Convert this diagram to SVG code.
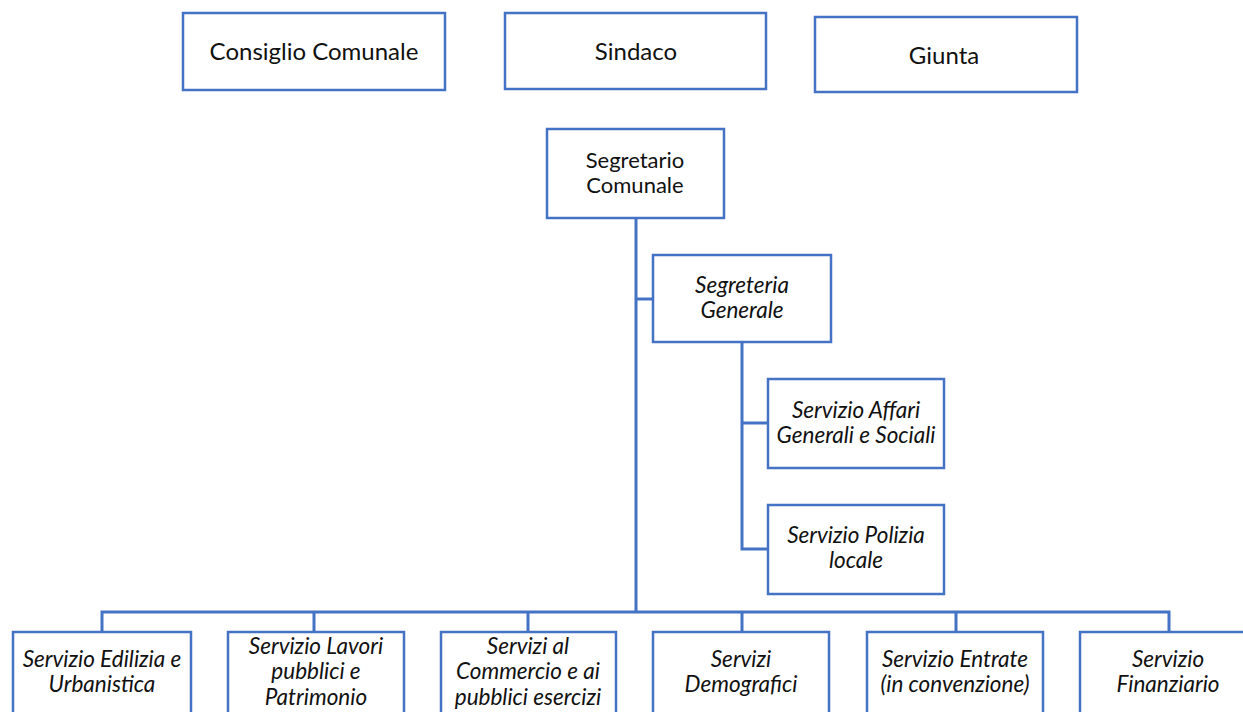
<svg xmlns="http://www.w3.org/2000/svg" width="1243" height="712" viewBox="0 0 1243 712">
<style>
.box{fill:#fff;stroke:#4472C4;stroke-width:2.5}
.ln{fill:none;stroke:#4472C4;stroke-width:3}
text{font-family:Lato,"Open Sans",sans-serif;fill:#111;text-anchor:middle}
.t1{font-size:24px}
.t2{font-size:22px}
.it{font-size:22.5px;font-style:italic}
</style>
<rect width="1243" height="712" fill="#fff"/>
<g id="connectors">
<path class="ln" d="M636 218V612"/>
<path class="ln" d="M636 299H653"/>
<path class="ln" d="M742 342V549H768M742 423H768"/>
<path class="ln" d="M102 632V612H1169V632M314 612V632M528 612V632M742 612V632M956 612V632"/>
</g>
<g id="consiglio"><rect class="box" x="183" y="13" width="262" height="77"/><text class="t1" x="314" y="60">Consiglio Comunale</text></g>
<g id="sindaco"><rect class="box" x="505" y="13" width="261" height="76"/><text class="t1" x="636" y="60">Sindaco</text></g>
<g id="giunta"><rect class="box" x="815" y="17" width="262" height="75"/><text class="t1" x="944" y="64">Giunta</text></g>
<g id="segretario"><rect class="box" x="547" y="129" width="177" height="89"/><text class="t2" x="635" y="168">Segretario</text><text class="t2" x="635" y="193">Comunale</text></g>
<g id="segreteria"><rect class="box" x="653" y="255" width="178" height="87"/><text class="it" x="742" y="293">Segreteria</text><text class="it" x="742" y="318">Generale</text></g>
<g id="affari"><rect class="box" x="768" y="379" width="176" height="89"/><text class="it" x="856" y="418">Servizio Affari</text><text class="it" x="856" y="443">Generali e Sociali</text></g>
<g id="polizia"><rect class="box" x="768" y="505" width="176" height="89"/><text class="it" x="856" y="543">Servizio Polizia</text><text class="it" x="856" y="568">locale</text></g>
<g id="edilizia"><rect class="box" x="13" y="632" width="178" height="100"/><text class="it" x="102" y="667">Servizio Edilizia e</text><text class="it" x="102" y="692">Urbanistica</text></g>
<g id="lavori"><rect class="box" x="228" y="632" width="176" height="100"/><text class="it" x="316" y="654">Servizio Lavori</text><text class="it" x="316" y="679">pubblici e</text><text class="it" x="316" y="705">Patrimonio</text></g>
<g id="commercio"><rect class="box" x="441" y="632" width="175" height="100"/><text class="it" x="528" y="654">Servizi al</text><text class="it" x="528" y="679">Commercio e ai</text><text class="it" x="528" y="705">pubblici esercizi</text></g>
<g id="demografici"><rect class="box" x="653" y="632" width="176" height="100"/><text class="it" x="741" y="667">Servizi</text><text class="it" x="741" y="692">Demografici</text></g>
<g id="entrate"><rect class="box" x="867" y="632" width="176" height="100"/><text class="it" x="955" y="667">Servizio Entrate</text><text class="it" x="955" y="692">(in convenzione)</text></g>
<g id="finanziario"><rect class="box" x="1080" y="632" width="177" height="100"/><text class="it" x="1168" y="667">Servizio</text><text class="it" x="1168" y="692">Finanziario</text></g>
</svg>
